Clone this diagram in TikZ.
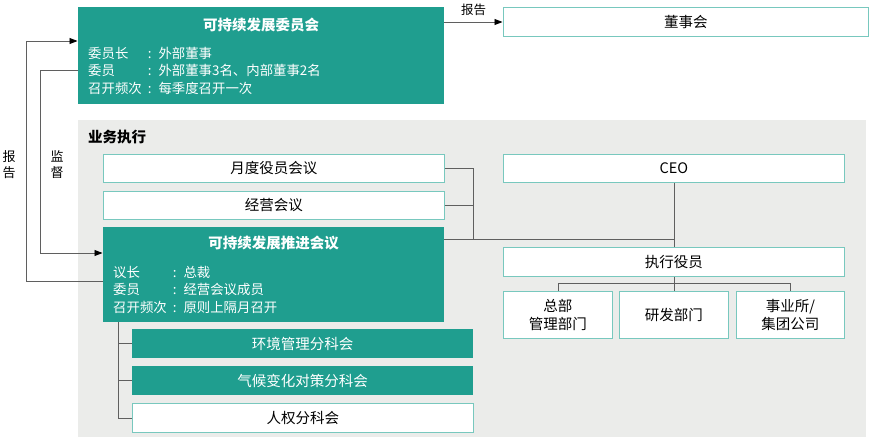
\documentclass[tikz,border=0pt]{standalone}
\usepackage{fontspec}
\setmainfont{Noto Sans CJK SC}
\usetikzlibrary{positioning,arrows.meta}
\definecolor{teal-main}{RGB}{31,158,143}
\definecolor{teal-line}{RGB}{120,200,190}
\definecolor{panel-gray}{RGB}{235,236,234}
\definecolor{link-gray}{RGB}{95,95,95}
\tikzset{
    teal-box/.style = {fill=teal-main, rectangle, anchor=north west, inner sep=0pt},
    white-box/.style = {fill=white, draw=teal-line, line width=0.8pt, rectangle, anchor=north west, inner sep=0pt, align=center, font=\fontsize{14.5}{17.5}\selectfont},
    teal-label/.style = {teal-box, text=white, align=center, font=\fontsize{14.5}{17.5}\selectfont},
    box-title/.style = {text=white, inner sep=0pt, font=\fontsize{14.5}{17}\selectfont\bfseries},
    box-text/.style = {text=white, inner sep=0pt, anchor=north west, font=\fontsize{13.4}{17.5}\selectfont},
    side-label/.style = {align=center, inner sep=0pt, font=\fontsize{13}{16}\selectfont},
    link/.style = {draw=link-gray, line width=0.8pt},
    report-arrow/.style = {link, -{Triangle[length=8pt,width=6pt,color=black,fill=black]}, shorten >=0.5pt},
}

\begin{document}
\begin{tikzpicture}[x=1pt, y=-1pt]
\useasboundingbox (0,0) rectangle (870,437);
\node [fill=panel-gray, anchor=north west, minimum width=788pt, minimum height=317pt, inner sep=0pt] (panel) at (78,120) {};
\node [font=\fontsize{14.5}{17}\selectfont\bfseries, anchor=west, inner sep=0pt] (biz) at (88,137) {业务执行};

\node [teal-box, minimum width=366pt, minimum height=97pt] (committee) at (78,7) {};
\node [box-title, below=11pt] at (committee.north) {可持续发展委员会};
\node [box-text] at (88,46) {\begin{tabular}{@{}l@{\hspace{6pt}:\hspace{7pt}}l@{}}
    委员长 & 外部董事 \\
    委员 & 外部董事3名、内部董事2名 \\
    召开频次 & 每季度召开一次
\end{tabular}};
\node [white-box, minimum width=365pt, minimum height=29pt] (board) at (503,7) {董事会};

\node [white-box, minimum width=341pt, minimum height=28pt] (monthly) at (103,154) {月度役员会议};
\node [white-box, minimum width=341pt, minimum height=28pt] (mgmt) at (103,191) {经营会议};
\node [teal-box, minimum width=341pt, minimum height=95pt] (promo) at (103,227) {};
\node [box-title, below=9pt] at (promo.north) {可持续发展推进会议};
\node [box-text] at (113,265) {\begin{tabular}{@{}l@{\hspace{6pt}:\hspace{7pt}}l@{}}
    议长 & 总裁 \\
    委员 & 经营会议成员 \\
    召开频次 & 原则上隔月召开
\end{tabular}};
\node [teal-label, minimum width=341pt, minimum height=29pt] (env) at (132,329) {环境管理分科会};
\node [teal-label, minimum width=341pt, minimum height=29pt] (climate) at (132,366) {气候变化对策分科会};
\node [white-box, minimum width=341pt, minimum height=29pt] (rights) at (132,403) {人权分科会};

\node [white-box, minimum width=341pt, minimum height=28pt] (ceo) at (503,154) {CEO};
\node [white-box, minimum width=341pt, minimum height=29pt] (exec) at (503,247) {执行役员};
\node [white-box, minimum width=109pt, minimum height=47pt] (hq) at (503,291) {总部\\管理部门};
\node [white-box, minimum width=109pt, minimum height=47pt] (rd) at (619,291) {研发部门};
\node [white-box, minimum width=108pt, minimum height=47pt] (bu) at (736,291) {事业所/\\集团公司};

\coordinate (bus) at (473,239);
\draw [link] (monthly.east) -| (bus);
\draw [link] (mgmt.east) -- (mgmt.east -| bus);
\draw [link] (promo.north east |- bus) -- (bus -| ceo.south);
\draw [link] (ceo.south) -- (exec.north);
\draw [link] (exec.south) -- ++(0,7) coordinate (fork);
\draw [link] (hq.north) |- (fork) -| (bu.north);
\draw [link] (fork) -- (rd.north);

\coordinate (tree) at (118,322);
\draw [link] (tree) |- (rights.west);
\draw [link] (tree |- env.west) -- (env.west);
\draw [link] (tree |- climate.west) -- (climate.west);

\draw [report-arrow] (committee.east |- 0,22) -- (board.west |- 0,22) node [midway, above=6pt, font=\fontsize{12.5}{15}\selectfont, inner sep=0pt] {报告};
\draw [report-arrow] (promo.west |- 0,281) -- (26,281) |- (committee.west |- 0,41);
\draw [report-arrow] (committee.west |- 0,70) -- (40,70) |- (promo.west |- 0,253);
\node [side-label] (report-label) at (9,165) {报\\告};
\node [side-label] (watch-label) at (57,165) {监\\督};
\end{tikzpicture}
\end{document}
